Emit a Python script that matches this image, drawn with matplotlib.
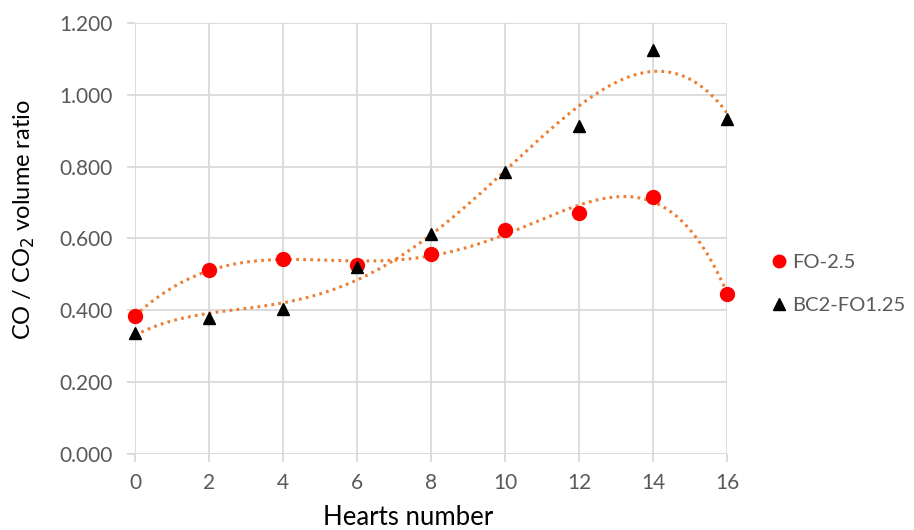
import numpy as np
import matplotlib
matplotlib.use("Agg")
import matplotlib.pyplot as plt

plt.rcParams['font.family'] = ['Lato', 'DejaVu Sans']

hearts = [0, 2, 4, 6, 8, 10, 12, 14, 16]
fo_25 = [0.384, 0.513, 0.543, 0.527, 0.558, 0.625, 0.670, 0.715, 0.446]
bc2_fo125 = [0.338, 0.378, 0.405, 0.521, 0.613, 0.785, 0.913, 1.126, 0.932]

trend_color = '#ED7D31'
grid_color = '#D9D9D9'
tick_color = '#595959'

fig = plt.figure(figsize=(9.14, 5.30), dpi=100)
ax = fig.add_axes([0.1477, 0.1434, 0.6477, 0.8132])

# polynomial trendlines through each series
xs = np.linspace(0, 16, 300)
for ys, deg in ((fo_25, 5), (bc2_fo125, 4)):
    coef = np.polyfit(hearts, ys, deg)
    ax.plot(xs, np.polyval(coef, xs), color=trend_color, lw=2.2,
            linestyle=(0, (0.9, 1.4)), zorder=2)

ax.plot(hearts, fo_25, 'o', color='#FF0000', ms=10, label='FO-2.5',
        zorder=3, clip_on=False)
ax.plot(hearts, bc2_fo125, '^', color='black', ms=9, label='BC2-FO1.25',
        zorder=3, clip_on=False)

ax.set_xlim(0, 16)
ax.set_ylim(0, 1.2)
ax.set_xticks(range(0, 17, 2))
ax.set_yticks(np.arange(0, 1.21, 0.2))
ax.set_yticklabels([f'{v:.3f}' for v in np.arange(0, 1.21, 0.2)])
ax.grid(True, color=grid_color, lw=1.3)
ax.set_axisbelow(True)
for s in ax.spines.values():
    s.set_visible(False)
ax.tick_params(axis='both', colors=grid_color, length=6, width=1.3,
               labelcolor=tick_color, labelsize=15)
ax.tick_params(axis='x', pad=8)
ax.tick_params(axis='y', pad=10)

ax.set_xlabel('Hearts number', fontsize=18.5)
ax.set_ylabel('CO / CO$_2$ volume ratio', fontsize=17)
ax.xaxis.set_label_coords(0.461, -0.118)
ax.yaxis.set_label_coords(-0.166, 0.543)

leg = ax.legend(loc='center left', bbox_to_anchor=(1.058, 0.394), frameon=False,
                fontsize=14.5, handletextpad=0.15, labelspacing=1.3,
                handlelength=1.0, markerscale=0.9, borderaxespad=0)
for t in leg.get_texts():
    t.set_color(tick_color)

fig.savefig('out.png', dpi=100)
